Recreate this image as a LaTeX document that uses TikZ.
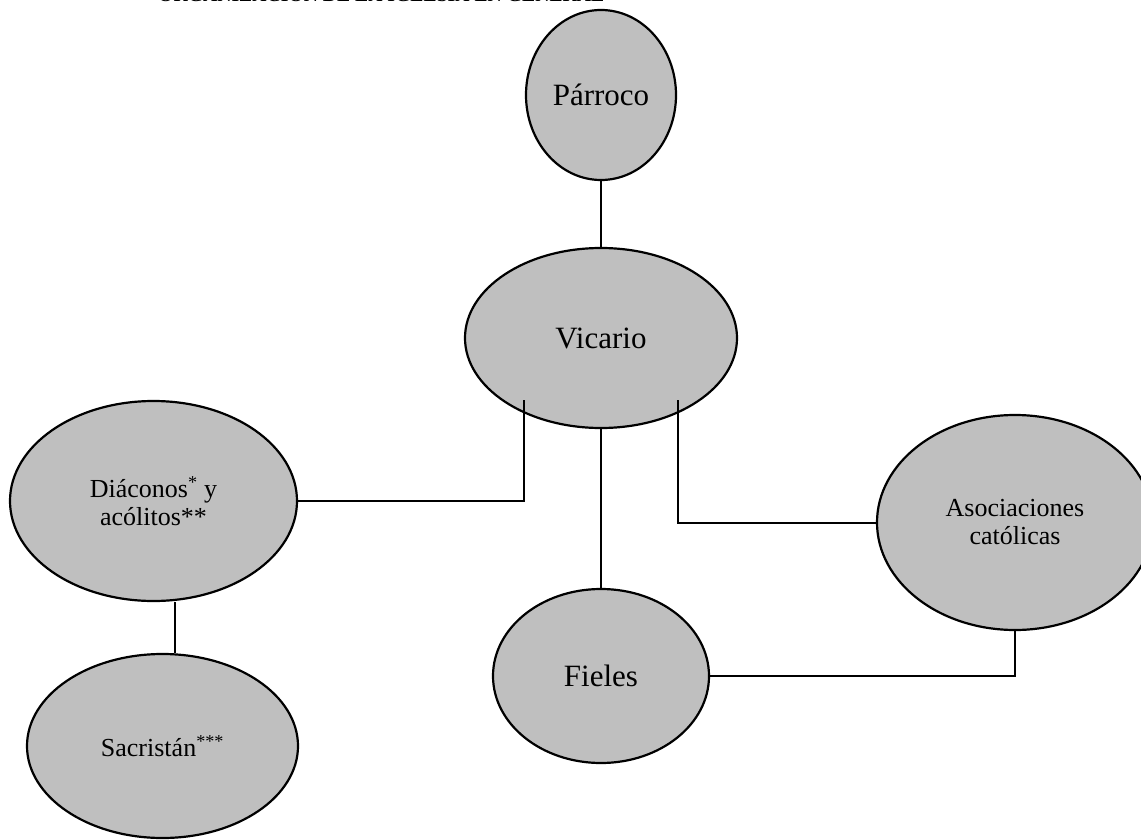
\documentclass[tikz,border=0pt]{standalone}
\usepackage{fontspec}
\setmainfont{Liberation Serif}
\usetikzlibrary{shapes.geometric}
\newcommand{\fondo}{black!25}
\newcommand{\grande}{\fontsize{31}{37}\selectfont}
\newcommand{\chico}{\fontsize{26}{28}\selectfont}

\begin{document}
\begin{tikzpicture}[x=1pt,y=-1pt,
        globo/.style={ellipse, draw, fill=\fondo, line width=2.2pt, inner sep=0pt, align=center},
        linea/.style={line width=2pt}]
        \useasboundingbox (0,0) rectangle (1141,840);
        % titulo, cortado por arriba
        \node[anchor=base west, inner sep=0pt, font=\bfseries\fontsize{19.7}{22}\selectfont] (titulo) at (158,2) {ORGANIZACIÓN DE LA IGLESIA EN GENERAL};
        % globos
        \node[globo, minimum width=150pt, minimum height=170pt, font=\grande] (par) at (601,95) {Párroco};
        \node[globo, minimum width=272pt, minimum height=180pt, font=\grande] (vic) at (601,338) {Vicario};
        \node[globo, minimum width=287pt, minimum height=200pt, font=\chico] (dia) at (153.5,501) {Diáconos\textsuperscript{*} y\\acólitos**};
        \node[globo, minimum width=271pt, minimum height=184pt, font=\chico] (sac) at (162.5,746) {Sacristán\textsuperscript{***}};
        \node[globo, minimum width=216pt, minimum height=174pt, font=\grande] (fie) at (601,676) {Fieles};
        \node[globo, minimum width=276pt, minimum height=215pt, font=\chico] (aso) at (1015,522.5) {Asociaciones\\católicas};
        %\node[globo] (otro) at (0,0) {};
        \coordinate (vicI) at (524,400);
        \coordinate (vicD) at (678,400);
        % lineas
        \draw[linea] (par) -- (vic);
        \draw[linea] (vic) -- (fie);
        \draw[linea] (dia.east) -| (vicI);
        \draw[linea] (vicD) |- (aso.west);
        \draw[linea] (fie.east) -| (aso.south);
        \draw[linea] ([xshift=21.5pt]dia.south) -- ([xshift=12.5pt]sac.north);
    \end{tikzpicture}
\end{document}
